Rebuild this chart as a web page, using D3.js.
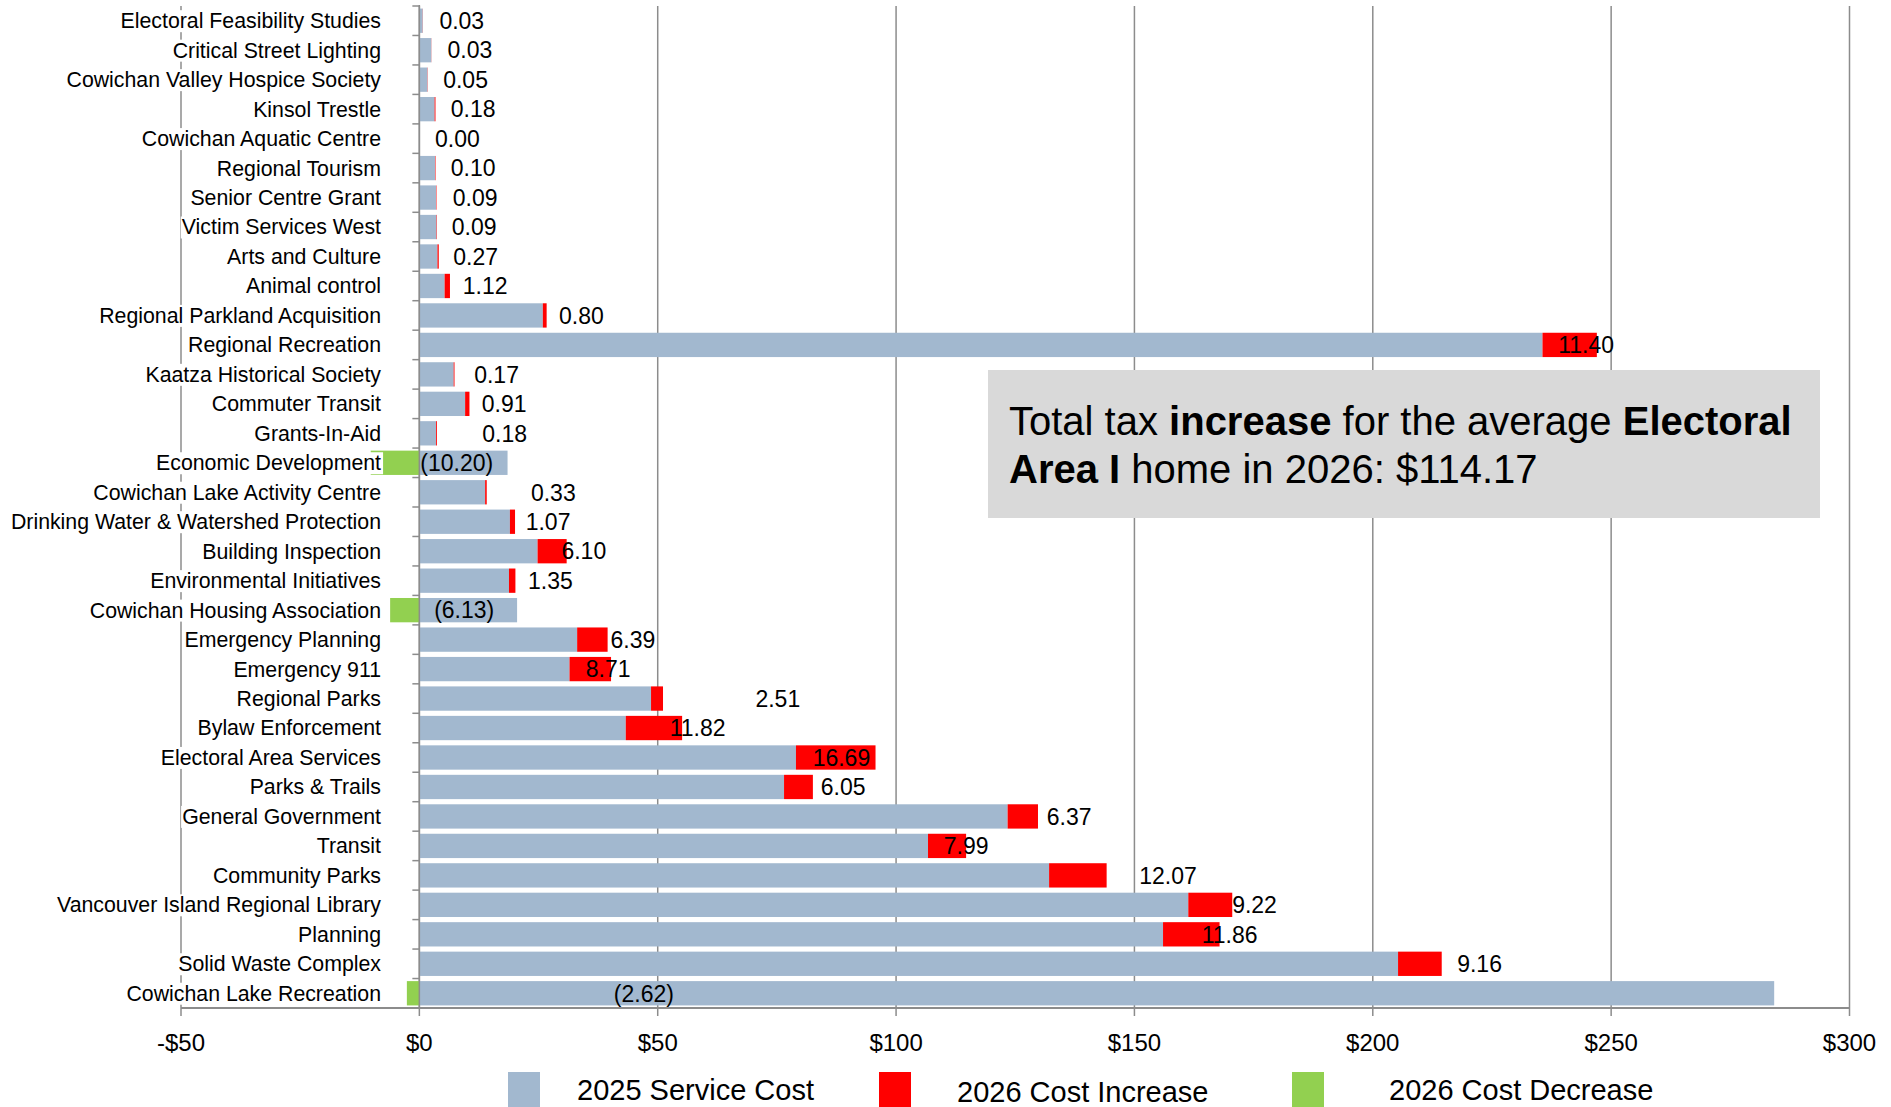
<!DOCTYPE html>
<html>
<head>
<meta charset="utf-8">
<script src="https://cdn.jsdelivr.net/npm/d3@7"></script>
<style>
  body { margin: 0; background: #fff; }
  svg { display: block; font-family: "Liberation Sans", Arial, sans-serif; }
</style>
</head>
<body>
<div id="chart"></div>
<script>
// services, top to bottom
const categories = [
  "Electoral Feasibility Studies", "Critical Street Lighting", "Cowichan Valley Hospice Society",
  "Kinsol Trestle", "Cowichan Aquatic Centre", "Regional Tourism", "Senior Centre Grant",
  "Victim Services West", "Arts and Culture", "Animal control", "Regional Parkland Acquisition",
  "Regional Recreation", "Kaatza Historical Society", "Commuter Transit", "Grants-In-Aid",
  "Economic Development", "Cowichan Lake Activity Centre", "Drinking Water & Watershed Protection",
  "Building Inspection", "Environmental Initiatives", "Cowichan Housing Association",
  "Emergency Planning", "Emergency 911", "Regional Parks", "Bylaw Enforcement",
  "Electoral Area Services", "Parks & Trails", "General Government", "Transit",
  "Community Parks", "Vancouver Island Regional Library", "Planning", "Solid Waste Complex",
  "Cowichan Lake Recreation"
];

// 2025 service cost ($)
const base2025 = [
  0.7, 2.5, 1.7, 3.2, 0, 3.3, 3.5, 3.6, 3.8, 5.3, 25.9,
  235.6, 7.2, 9.6, 3.5, 18.5, 13.8, 19.0, 24.8, 18.8, 20.5,
  33.1, 31.5, 48.6, 43.3, 79.0, 76.5, 123.4, 106.7, 132.1, 161.3,
  156.0, 205.3, 284.2
];

// 2026 change ($), negative = decrease
const change2026 = [
  0.03, 0.03, 0.05, 0.18, 0.00, 0.10, 0.09, 0.09, 0.27, 1.12, 0.80,
  11.40, 0.17, 0.91, 0.18, -10.20, 0.33, 1.07, 6.10, 1.35, -6.13,
  6.39, 8.71, 2.51, 11.82, 16.69, 6.05, 6.37, 7.99, 12.07, 9.22,
  11.86, 9.16, -2.62
];

// where each value label starts, in $ on the x axis (labels were hand placed)
const labelAt = [
  4.2, 5.9, 5.0, 6.6, 3.3, 6.6, 7.0, 6.8, 7.1, 9.1, 29.3,
  238.9, 11.5, 13.1, 13.2, 0.2, 23.4, 22.3, 29.8, 22.8, 3.1,
  40.1, 34.9, 70.5, 52.5, 82.5, 84.2, 131.6, 110.0, 151.0, 170.5,
  164.1, 217.7, 40.8
];

const xTicks = [-50, 0, 50, 100, 150, 200, 250, 300];

const legendItems = [
  { name: "2025 Service Cost", color: "#a2b8cf" },
  { name: "2026 Cost Increase", color: "#ff0000" },
  { name: "2026 Cost Decrease", color: "#92d050" }
];

const W = 1891, H = 1107;
const plotTop = 6, plotBottom = 1008;

const svg = d3.select("#chart").append("svg")
  .attr("width", W)
  .attr("height", H);

const x = d3.scaleLinear()
  .domain([-50, 300])
  .range([181, 1849.5]);

const y = d3.scaleBand()
  .domain(categories)
  .range([plotTop, plotBottom])
  .paddingInner(0.175)
  .paddingOuter(0.0875);

const rows = categories.map(function (c, i) {
  return { name: c, base: base2025[i], change: change2026[i], at: labelAt[i] };
});

// vertical gridlines
svg.append("g")
  .selectAll("line")
  .data(xTicks)
  .join("line")
  .attr("x1", d => x(d)).attr("x2", d => x(d))
  .attr("y1", plotTop).attr("y2", plotBottom + 8)
  .attr("stroke", "#8c8c8c")
  .attr("stroke-width", 1.5);

// bottom axis line + labels
svg.append("line")
  .attr("x1", x(-50)).attr("x2", x(300))
  .attr("y1", plotBottom).attr("y2", plotBottom)
  .attr("stroke", "#8c8c8c")
  .attr("stroke-width", 2);

svg.append("g")
  .selectAll("text")
  .data(xTicks)
  .join("text")
  .attr("x", d => x(d))
  .attr("y", 1051)
  .attr("text-anchor", "middle")
  .style("font-size", "24px")
  .attr("fill", "#000")
  .text(d => (d < 0 ? "-$" : "$") + Math.abs(d));

// annotation box (sits over gridlines)
svg.append("rect")
  .attr("x", 988).attr("y", 370)
  .attr("width", 832).attr("height", 148)
  .attr("fill", "#d9d9d9");

const note = svg.append("text")
  .attr("x", 1009)
  .style("font-size", "40px")
  .attr("fill", "#000");
const l1 = note.append("tspan").attr("x", 1009).attr("y", 435);
l1.append("tspan").text("Total tax ");
l1.append("tspan").attr("font-weight", "bold").text("increase");
l1.append("tspan").text(" for the average ");
l1.append("tspan").attr("font-weight", "bold").text("Electoral");
const l2 = note.append("tspan").attr("x", 1009).attr("y", 483);
l2.append("tspan").attr("font-weight", "bold").text("Area I");
l2.append("tspan").text(" home in 2026: $114.17");

// bars
const bars = svg.append("g");

bars.selectAll(".base")
  .data(rows.filter(d => d.base > 0))
  .join("rect")
  .attr("class", "base")
  .attr("x", x(0))
  .attr("y", d => y(d.name))
  .attr("width", d => x(d.base) - x(0))
  .attr("height", y.bandwidth())
  .attr("fill", "#a2b8cf");

bars.selectAll(".inc")
  .data(rows.filter(d => d.change > 0))
  .join("rect")
  .attr("class", "inc")
  .attr("x", d => x(d.base))
  .attr("y", d => y(d.name))
  .attr("width", d => x(d.base + d.change) - x(d.base))
  .attr("height", y.bandwidth())
  .attr("fill", "#ff0000");

bars.selectAll(".dec")
  .data(rows.filter(d => d.change < 0))
  .join("rect")
  .attr("class", "dec")
  .attr("x", d => x(d.change))
  .attr("y", d => y(d.name))
  .attr("width", d => x(0) - x(d.change))
  .attr("height", y.bandwidth())
  .attr("fill", "#92d050");

// y axis at $0 with ticks on band boundaries
const step = y.step();
const bounds = d3.range(categories.length + 1).map(i => plotTop + i * step);
svg.append("line")
  .attr("x1", x(0)).attr("x2", x(0))
  .attr("y1", plotTop - 1).attr("y2", plotBottom)
  .attr("stroke", "#8c8c8c")
  .attr("stroke-width", 1.5);
svg.append("g")
  .selectAll("line")
  .data(bounds)
  .join("line")
  .attr("x1", x(0) - 7).attr("x2", x(0))
  .attr("y1", d => d).attr("y2", d => d)
  .attr("stroke", "#8c8c8c")
  .attr("stroke-width", 1.5);

// value labels
const fmt = d3.format(".2f");
svg.append("g")
  .selectAll("text")
  .data(rows)
  .join("text")
  .attr("x", d => x(d.at))
  .attr("y", d => y(d.name) + y.bandwidth() / 2)
  .attr("dy", "0.36em")
  .style("font-size", "23px")
  .attr("fill", "#000")
  .text(d => d.change < 0 ? "(" + fmt(-d.change) + ")" : fmt(d.change));

// category labels, with white boxes like the original
const catG = svg.append("g");
const cats = catG.selectAll("g")
  .data(rows)
  .join("g");
cats.append("rect").attr("fill", "#fff");
cats.append("text")
  .attr("x", 381)
  .attr("y", d => y(d.name) + y.bandwidth() / 2)
  .attr("dy", "0.35em")
  .attr("text-anchor", "end")
  .style("font-size", "21.3px")
  .attr("fill", "#000")
  .text(d => d.name);
cats.each(function () {
  const g = d3.select(this);
  const bb = g.select("text").node().getBBox();
  g.select("rect")
    .attr("x", bb.x - 1).attr("y", bb.y + 1)
    .attr("width", bb.width + 3).attr("height", bb.height - 2);
});

// legend
const legendX = [[508, 577], [879, 957], [1292, 1389]];
const legendTextY = [1100, 1102, 1100];
const leg = svg.append("g")
  .selectAll("g")
  .data(legendItems)
  .join("g");
leg.append("rect")
  .attr("x", (d, i) => legendX[i][0])
  .attr("y", 1072)
  .attr("width", 32)
  .attr("height", 40)
  .attr("fill", d => d.color);
leg.append("text")
  .attr("x", (d, i) => legendX[i][1])
  .attr("y", (d, i) => legendTextY[i])
  .style("font-size", "29px")
  .attr("fill", "#000")
  .text(d => d.name);
</script>
</body>
</html>
